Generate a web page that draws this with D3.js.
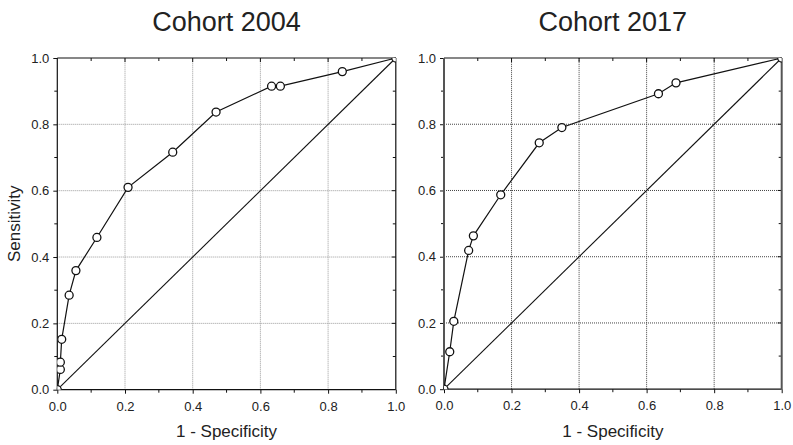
<!DOCTYPE html>
<html>
<head>
<meta charset="utf-8">
<script src="https://cdn.jsdelivr.net/npm/d3@7"></script>
<style>
  html, body { margin: 0; padding: 0; background: #fff; }
  svg { display: block; font-family: "Liberation Sans", Arial, sans-serif; }
</style>
</head>
<body>
<svg id="chart" width="793" height="445"></svg>
<script>
// ROC curves for two cohorts: false positive rate vs true positive rate
const titles = ["Cohort 2004", "Cohort 2017"];
const fpr2004 = [0, 0.009, 0.009, 0.013, 0.035, 0.055, 0.117, 0.209, 0.341, 0.469, 0.633, 0.659, 0.842, 1];
const tpr2004 = [0, 0.061, 0.083, 0.152, 0.285, 0.359, 0.459, 0.610, 0.716, 0.837, 0.915, 0.915, 0.959, 1];
const fpr2017 = [0, 0.017, 0.029, 0.073, 0.087, 0.168, 0.282, 0.349, 0.635, 0.687, 1];
const tpr2017 = [0, 0.113, 0.205, 0.419, 0.463, 0.587, 0.744, 0.790, 0.892, 0.925, 1];
const majorTicks = [0, 0.2, 0.4, 0.6, 0.8, 1.0];
const minorTicks = [0.1, 0.3, 0.5, 0.7, 0.9];
const xLabel = "1 - Specificity";
const yLabel = "Sensitivity";

const svg = d3.select("#chart");

const panels = [
  { title: titles[0], fpr: fpr2004, tpr: tpr2004, x0: 57.3, x1: 395.8, y0: 389.7, y1: 58,
    grid: "#9a9a9a", sideStroke: "#111", sideWidth: 1.2, showYLabel: true },
  { title: titles[1], fpr: fpr2017, tpr: tpr2017, x0: 444, x1: 781.7, y0: 389.2, y1: 58,
    grid: "#444", sideStroke: "#555", sideWidth: 2, showYLabel: false }
];

panels.forEach((p, idx) => {
  const x = d3.scaleLinear().domain([0, 1]).range([p.x0, p.x1]);
  const y = d3.scaleLinear().domain([0, 1]).range([p.y0, p.y1]);
  const g = svg.append("g");
  const fmt = d3.format(".1f");

  // dotted grid at interior major ticks
  const inner = majorTicks.filter(t => t > 0 && t < 1);
  g.append("g").selectAll("line.vg").data(inner).join("line")
    .attr("x1", d => x(d)).attr("x2", d => x(d))
    .attr("y1", y(0)).attr("y2", y(1))
    .attr("stroke", p.grid).attr("stroke-width", 1).attr("stroke-dasharray", "1,1");
  g.append("g").selectAll("line.hg").data(inner).join("line")
    .attr("y1", d => y(d)).attr("y2", d => y(d))
    .attr("x1", x(0)).attr("x2", x(1))
    .attr("stroke", p.grid).attr("stroke-width", 1).attr("stroke-dasharray", "1,1");

  // bottom and left axes: outward ticks with labels
  const bottom = d3.axisBottom(x).tickValues(majorTicks).tickFormat(fmt).tickSizeInner(4).tickSizeOuter(0).tickPadding(8);
  const bAx = g.append("g").attr("transform", `translate(0,${p.y0})`).call(bottom);
  bAx.select(".domain").remove();
  const left = d3.axisLeft(y).tickValues(majorTicks).tickFormat(fmt).tickSizeInner(4).tickSizeOuter(0).tickPadding(4);
  const lAx = g.append("g").attr("transform", `translate(${p.x0},0)`).call(left);
  lAx.select(".domain").remove();
  [bAx, lAx].forEach(a => {
    a.selectAll("text").attr("font-size", 13).attr("fill", "#222")
      .attr("font-family", "'Liberation Sans', Arial, sans-serif");
    a.selectAll("line").attr("stroke", "#111").attr("stroke-width", 1);
  });
  // minor ticks outward on bottom/left
  g.append("g").selectAll("line").data(minorTicks).join("line")
    .attr("x1", d => x(d)).attr("x2", d => x(d)).attr("y1", p.y0).attr("y2", p.y0 + 3)
    .attr("stroke", "#111");
  g.append("g").selectAll("line").data(minorTicks).join("line")
    .attr("y1", d => y(d)).attr("y2", d => y(d)).attr("x1", p.x0).attr("x2", p.x0 - 3)
    .attr("stroke", "#111");

  // top and right mirrored ticks, pointing inward
  const topTicks = majorTicks.filter(t => t > 0 && t < 1).map(v => ({ v, len: 4 }))
    .concat(minorTicks.map(v => ({ v, len: 3 })));
  g.append("g").selectAll("line").data(topTicks).join("line")
    .attr("x1", d => x(d.v)).attr("x2", d => x(d.v)).attr("y1", p.y1).attr("y2", d => p.y1 + d.len)
    .attr("stroke", "#111");
  g.append("g").selectAll("line").data(topTicks).join("line")
    .attr("y1", d => y(d.v)).attr("y2", d => y(d.v)).attr("x1", p.x1).attr("x2", d => p.x1 - d.len)
    .attr("stroke", "#111");

  // frame
  g.append("line").attr("x1", p.x0).attr("x2", p.x1).attr("y1", p.y0).attr("y2", p.y0)
    .attr("stroke", "#111").attr("stroke-width", 1.2);
  g.append("line").attr("x1", p.x0).attr("x2", p.x1).attr("y1", p.y1).attr("y2", p.y1)
    .attr("stroke", "#111").attr("stroke-width", 1.2);
  g.append("line").attr("x1", p.x0).attr("x2", p.x0).attr("y1", p.y0).attr("y2", p.y1)
    .attr("stroke", p.sideStroke).attr("stroke-width", p.sideWidth);
  g.append("line").attr("x1", p.x1).attr("x2", p.x1).attr("y1", p.y0).attr("y2", p.y1)
    .attr("stroke", p.sideStroke).attr("stroke-width", p.sideWidth);

  // clip for markers at corners
  const clipId = "clip" + idx;
  svg.append("clipPath").attr("id", clipId).append("rect")
    .attr("x", p.x0).attr("y", p.y1).attr("width", p.x1 - p.x0).attr("height", p.y0 - p.y1);

  // chance diagonal
  g.append("line").attr("x1", x(0)).attr("y1", y(0)).attr("x2", x(1)).attr("y2", y(1))
    .attr("stroke", "#111").attr("stroke-width", 1.1);

  // ROC curve
  const pts = p.fpr.map((f, i) => [f, p.tpr[i]]);
  g.append("path").datum(pts)
    .attr("d", d3.line().x(d => x(d[0])).y(d => y(d[1])))
    .attr("fill", "none").attr("stroke", "#111").attr("stroke-width", 1.2);
  g.append("g").attr("clip-path", `url(#${clipId})`)
    .selectAll("circle").data(pts).join("circle")
    .attr("cx", d => x(d[0])).attr("cy", d => y(d[1])).attr("r", 4)
    .attr("fill", "#fff").attr("stroke", "#111").attr("stroke-width", 1.3);

  // titles and axis labels
  svg.append("text").attr("x", (p.x0 + p.x1) / 2).attr("y", 31)
    .attr("text-anchor", "middle").attr("font-size", 27).attr("fill", "#222").text(p.title);
  svg.append("text").attr("x", (p.x0 + p.x1) / 2).attr("y", 437)
    .attr("text-anchor", "middle").attr("font-size", 17).attr("fill", "#222").text(xLabel);
  if (p.showYLabel) {
    svg.append("text").attr("transform", `translate(20,${(p.y0 + p.y1) / 2}) rotate(-90)`)
      .attr("text-anchor", "middle").attr("font-size", 17).attr("fill", "#222").text(yLabel);
  }
});
</script>
</body>
</html>
